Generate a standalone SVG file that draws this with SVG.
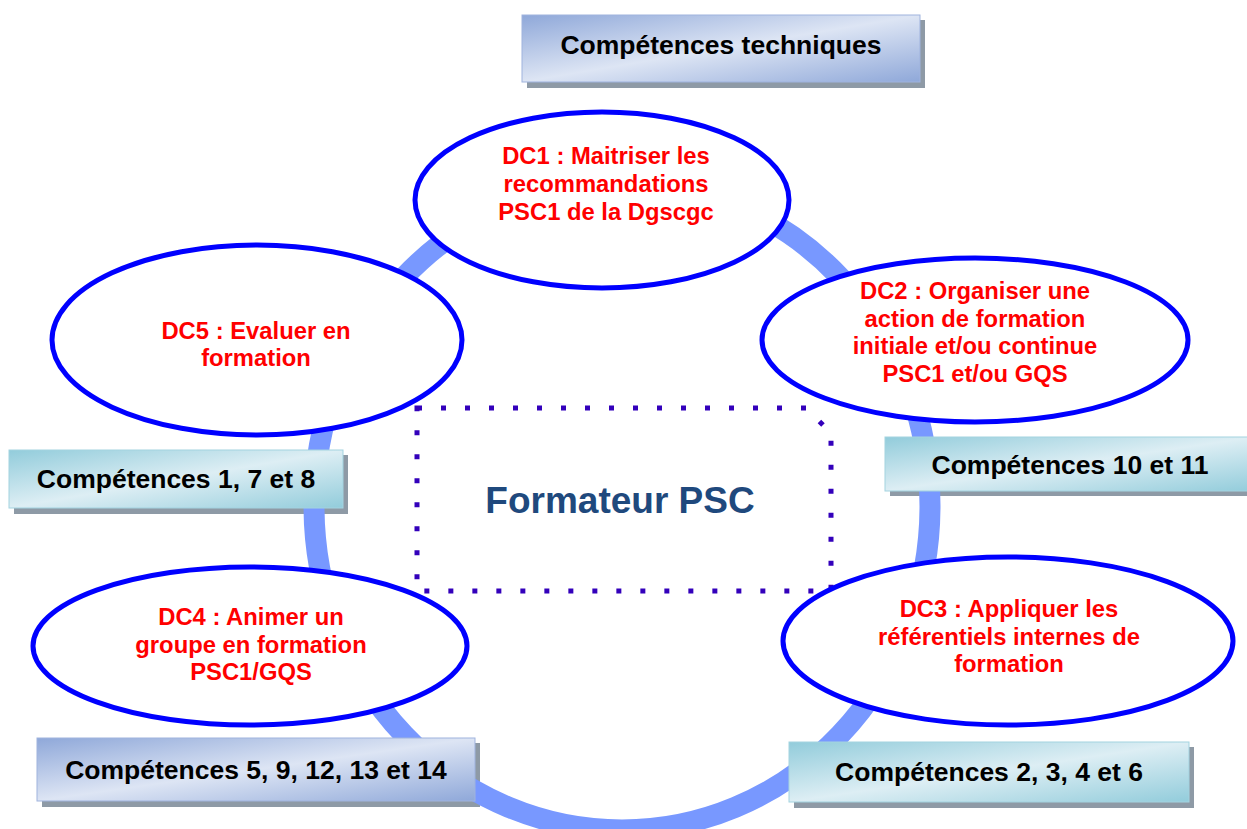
<svg xmlns="http://www.w3.org/2000/svg" width="1247" height="829" viewBox="0 0 1247 829">
<defs>
<linearGradient id="gBlue" x1="0" y1="0" x2="1" y2="1">
<stop offset="0" stop-color="#8FA8D9"/>
<stop offset="0.5" stop-color="#DDE5F4"/>
<stop offset="1" stop-color="#8FA8D9"/>
</linearGradient>
<linearGradient id="gTeal" x1="0" y1="0" x2="1" y2="1">
<stop offset="0" stop-color="#92CCDB"/>
<stop offset="0.5" stop-color="#DDEEF4"/>
<stop offset="1" stop-color="#92CCDB"/>
</linearGradient>
<style>
.shadow{fill:#8E9AA6}
.bbox{fill:url(#gBlue);stroke:#9FB3DE;stroke-width:1}
.tbox{fill:url(#gTeal);stroke:#A3D3E0;stroke-width:1}
.btxt{font-family:"Liberation Sans",Arial,sans-serif;font-weight:bold;font-size:26.5px;fill:#000;text-anchor:middle}
.dc{fill:#FFFFFF;stroke:#0000FF;stroke-width:5}
.dctxt{font-family:"Liberation Sans",Arial,sans-serif;font-weight:bold;font-size:23.8px;fill:#FF0000;text-anchor:middle}
.ring{fill:none;stroke:#7898FF;stroke-width:21}
.dots{fill:none;stroke:#3300BB;stroke-width:5;stroke-dasharray:5 19}
.center{font-family:"Liberation Sans",Arial,sans-serif;font-weight:bold;font-size:37px;fill:#1F497D;text-anchor:middle}
</style>
</defs>

<g id="shadows">
<rect class="shadow" x="527" y="20" width="398" height="68"/>
<rect class="shadow" x="14" y="455" width="334" height="59"/>
<rect class="shadow" x="890" y="442" width="370" height="54"/>
<rect class="shadow" x="42" y="743" width="438" height="64"/>
<rect class="shadow" x="794" y="747" width="400" height="61"/>
</g>

<g id="connectors">
<ellipse class="ring" cx="622" cy="506" rx="308" ry="324"/>
</g>

<g id="box-techniques">
<rect class="bbox" x="522" y="15" width="398" height="67"/>
<text class="btxt" x="721" y="54">Compétences techniques</text>
</g>
<g id="box-1-7-8">
<rect class="tbox" x="9" y="450" width="334" height="58"/>
<text class="btxt" x="176" y="488">Compétences 1, 7 et 8</text>
</g>
<g id="box-10-11">
<rect class="tbox" x="885" y="437" width="370" height="54"/>
<text class="btxt" x="1070" y="474">Compétences 10 et 11</text>
</g>
<g id="box-5-9-12-13-14">
<rect class="bbox" x="37" y="738" width="438" height="63"/>
<text class="btxt" x="256" y="779">Compétences 5, 9, 12, 13 et 14</text>
</g>
<g id="box-2-3-4-6">
<rect class="tbox" x="789" y="742" width="400" height="60"/>
<text class="btxt" x="989" y="781">Compétences 2, 3, 4 et 6</text>
</g>

<g id="formateur">
<path class="dots" d="M417,408 H806 L831,433 V591 H417 Z"/>
<text class="center" x="620" y="513">Formateur PSC</text>
</g>

<g id="dc1">
<ellipse class="dc" cx="602" cy="200" rx="187" ry="88"/>
<text class="dctxt" x="606" y="164">DC1 : Maitriser les</text>
<text class="dctxt" x="606" y="192">recommandations</text>
<text class="dctxt" x="606" y="220">PSC1 de la Dgscgc</text>
</g>
<g id="dc2">
<ellipse class="dc" cx="975" cy="340" rx="213" ry="82"/>
<text class="dctxt" x="975" y="299">DC2 : Organiser une</text>
<text class="dctxt" x="975" y="327">action de formation</text>
<text class="dctxt" x="975" y="354">initiale et/ou continue</text>
<text class="dctxt" x="975" y="382">PSC1 et/ou GQS</text>
</g>
<g id="dc5">
<ellipse class="dc" cx="257" cy="340" rx="205" ry="95"/>
<text class="dctxt" x="256" y="339">DC5 : Evaluer en</text>
<text class="dctxt" x="256" y="366">formation</text>
</g>
<g id="dc3">
<ellipse class="dc" cx="1008" cy="641" rx="225" ry="84"/>
<text class="dctxt" x="1009" y="617">DC3 : Appliquer les</text>
<text class="dctxt" x="1009" y="645">référentiels internes de</text>
<text class="dctxt" x="1009" y="672">formation</text>
</g>
<g id="dc4">
<ellipse class="dc" cx="250" cy="646" rx="217" ry="79"/>
<text class="dctxt" x="251" y="625">DC4 : Animer un</text>
<text class="dctxt" x="251" y="653">groupe en formation</text>
<text class="dctxt" x="251" y="680">PSC1/GQS</text>
</g>
</svg>
